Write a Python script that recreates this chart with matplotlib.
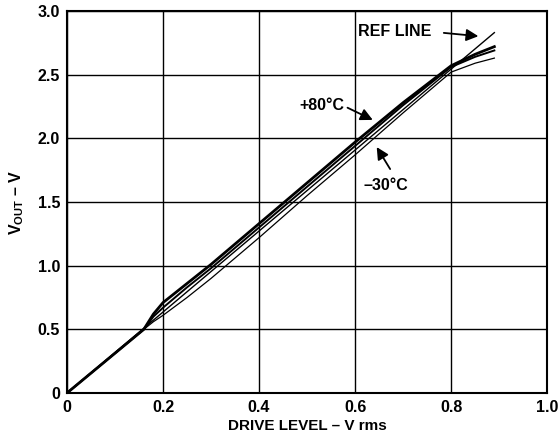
import numpy as np
import matplotlib.pyplot as plt

plt.rcParams['font.family'] = ['Liberation Sans', 'DejaVu Sans']
plt.rcParams['font.weight'] = 'bold'
plt.rcParams['mathtext.fontset'] = 'custom'
plt.rcParams['mathtext.rm'] = 'Liberation Sans:bold'
plt.rcParams['mathtext.it'] = 'Liberation Sans:bold'
plt.rcParams['mathtext.bf'] = 'Liberation Sans:bold'

# reference line (straight)
ref_x = [0.0, 0.89]
ref_y = [0.0, 2.83]

# curves
x_pts = [0.0, 0.16, 0.18, 0.2, 0.25, 0.3, 0.4, 0.5, 0.6, 0.7, 0.8, 0.85, 0.89]
v_p80 = [0.0, 0.50, 0.62, 0.71, 0.86, 1.01, 1.33, 1.65, 1.97, 2.28, 2.57, 2.66, 2.72]
v_25 = [0.0, 0.50, 0.60, 0.67, 0.83, 0.98, 1.30, 1.62, 1.94, 2.26, 2.56, 2.64, 2.69]
v_m30 = [0.0, 0.50, 0.56, 0.61, 0.75, 0.90, 1.22, 1.55, 1.87, 2.20, 2.52, 2.59, 2.63]

xticks = [0, 0.2, 0.4, 0.6, 0.8, 1.0]
xtick_labels = ['0', '0.2', '0.4', '0.6', '0.8', '1.0']
yticks = [0, 0.5, 1.0, 1.5, 2.0, 2.5, 3.0]
ytick_labels = ['0', '0.5', '1.0', '1.5', '2.0', '2.5', '3.0']

fig = plt.figure(figsize=(5.6, 4.41), dpi=100)
ax = fig.add_axes([0.1196, 0.1088, 0.8575, 0.8663])

ax.plot(ref_x, ref_y, color='black', lw=1.0)
ax.plot(x_pts, v_p80, color='black', lw=2.0)
ax.plot(x_pts, v_25, color='black', lw=1.4)
ax.plot(x_pts, v_m30, color='black', lw=0.9)

ax.set_xlim(0, 1.0)
ax.set_ylim(0, 3.0)
ax.set_xticks(xticks)
ax.set_xticklabels(xtick_labels)
ax.set_yticks(yticks)
ax.set_yticklabels(ytick_labels)
ax.tick_params(length=0, labelsize=11.5, pad=5)
ax.grid(True, color='black', lw=1.0)
for s in ax.spines.values():
    s.set_linewidth(1.5)

ax.set_xlabel('DRIVE LEVEL – V rms', fontsize=11, fontweight='bold', labelpad=3)
ax.set_ylabel(r'V$_{\mathrm{OUT}}$ – V', fontsize=11.5, fontweight='bold', labelpad=8)

arr = dict(arrowstyle='-|>', color='black', lw=1.3, mutation_scale=18)
ax.annotate('', xy=(0.8625, 2.80), xytext=(0.779, 2.83), arrowprops=arr)
ax.text(0.606, 2.835, 'REF LINE', fontsize=11.5, fontweight='bold', va='center')
ax.annotate('', xy=(0.642, 2.135), xytext=(0.579, 2.25), arrowprops=arr)
ax.text(0.53, 2.26, '+80°C', fontsize=11.5, fontweight='bold', va='center', ha='center')
ax.annotate('', xy=(0.642, 1.95), xytext=(0.676, 1.74), arrowprops=arr)
ax.text(0.665, 1.63, '–30°C', fontsize=11.5, fontweight='bold', va='center', ha='center')

fig.savefig('out.png', dpi=100)
